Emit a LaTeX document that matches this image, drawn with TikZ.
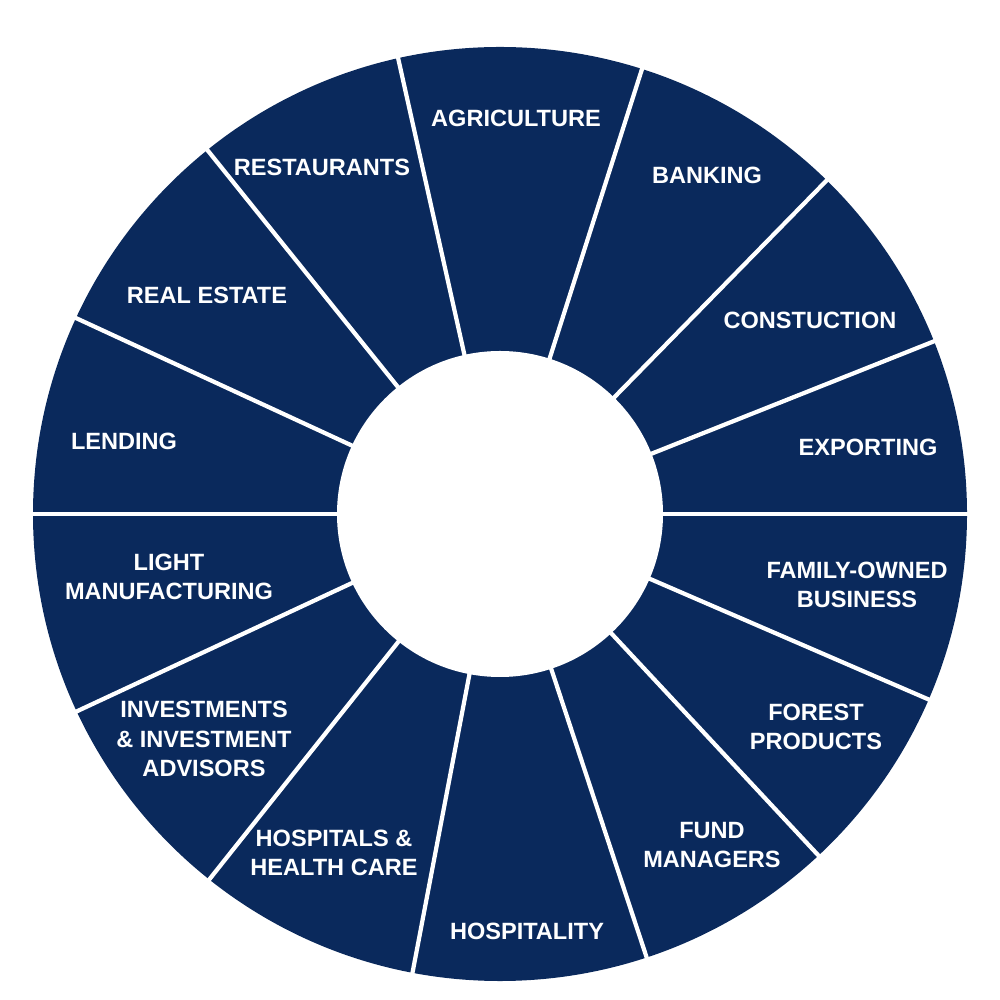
\documentclass[tikz,border=0pt]{standalone}
\usepackage{fontspec}
\setmainfont{Liberation Sans}
\definecolor{ringblue}{RGB}{10,41,92}

\begin{document}
\begin{tikzpicture}[
  sector/.style={font=\bfseries\fontsize{6.7}{8.3}\selectfont, text=white,
                 align=center, inner sep=0pt},
  divider/.style={draw=white, line width=1.2pt}
]
\useasboundingbox (-5.00,-4.86) rectangle (5.00,5.14);
\fill[ringblue] (0,0) circle (4.67);
\fill[white] (0,0) circle (1.63);
\foreach \a in {0,21.7,45.6,72.3,102.6,128.8,155.2,180,205,231.5,259.2,288.3,313,336.6}
  \draw[divider] (\a:1.5) -- (\a:4.8);
% sector labels, clockwise from the top
\node[sector] (agriculture) at (0.16,3.96) {AGRICULTURE};
\node[sector] (banking) at (2.07,3.39) {BANKING};
\node[sector] (construction) at (3.10,1.94) {CONSTUCTION};
\node[sector] (exporting) at (3.68,0.67) {EXPORTING};
\node[sector] (family) at (3.57,-0.71) {FAMILY-OWNED\\BUSINESS};
\node[sector] (forest) at (3.16,-2.13) {FOREST\\PRODUCTS};
\node[sector] (fund) at (2.12,-3.31) {FUND\\MANAGERS};
\node[sector] (hospitality) at (0.27,-4.17) {HOSPITALITY};
\node[sector] (hospitals) at (-1.66,-3.39) {HOSPITALS \&\\HEALTH CARE};
\node[sector] (investments) at (-2.96,-2.25) {INVESTMENTS\\\& INVESTMENT\\ADVISORS};
\node[sector] (light) at (-3.31,-0.625) {LIGHT\\MANUFACTURING};
\node[sector] (lending) at (-3.76,0.73) {LENDING};
\node[sector] (realestate) at (-2.93,2.19) {REAL ESTATE};
\node[sector] (restaurants) at (-1.78,3.47) {RESTAURANTS};
\end{tikzpicture}
\end{document}
